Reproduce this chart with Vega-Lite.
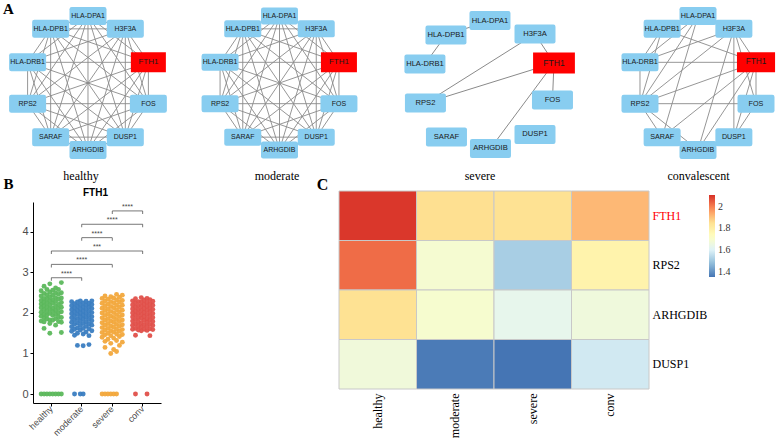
{
  "$schema": "https://vega.github.io/schema/vega-lite/v6.json",
  "padding": {"left": 2, "top": 0, "right": 0, "bottom": 0},
  "background": "white",
  "config": {"view": {"stroke": null}},
  "columns": 4,
  "align": "each",
  "bounds": "flush",
  "spacing": {"row": 25, "column": 0},
  "resolve": {"scale": {"xOffset": "independent", "x": "independent", "y": "independent", "color": "independent"}},
  "datasets": {
    "circ": [
      {"gene": "HLA-DPA1", "x": 0, "y": 1},
      {"gene": "H3F3A", "x": 0.588, "y": 0.809},
      {"gene": "FTH1", "x": 0.951, "y": 0.309},
      {"gene": "FOS", "x": 0.951, "y": -0.309},
      {"gene": "DUSP1", "x": 0.588, "y": -0.809},
      {"gene": "ARHGDIB", "x": 0, "y": -1},
      {"gene": "SARAF", "x": -0.588, "y": -0.809},
      {"gene": "RPS2", "x": -0.951, "y": -0.309},
      {"gene": "HLA-DRB1", "x": -0.951, "y": 0.309},
      {"gene": "HLA-DPB1", "x": -0.588, "y": 0.809}
    ],
    "sev": [
      {"gene": "HLA-DPA1", "x": 0, "y": 0.933},
      {"gene": "H3F3A", "x": 0.709, "y": 0.731},
      {"gene": "FTH1", "x": 1.008, "y": 0.299},
      {"gene": "FOS", "x": 0.984, "y": -0.254},
      {"gene": "DUSP1", "x": 0.709, "y": -0.769},
      {"gene": "ARHGDIB", "x": 0.008, "y": -0.978},
      {"gene": "SARAF", "x": -0.685, "y": -0.806},
      {"gene": "RPS2", "x": -1.016, "y": -0.299},
      {"gene": "HLA-DRB1", "x": -1.024, "y": 0.284},
      {"gene": "HLA-DPB1", "x": -0.693, "y": 0.716}
    ],
    "k10": [
      {"s": "HLA-DPA1", "t": "H3F3A"}, {"s": "HLA-DPA1", "t": "FTH1"}, {"s": "HLA-DPA1", "t": "FOS"}, {"s": "HLA-DPA1", "t": "DUSP1"}, {"s": "HLA-DPA1", "t": "ARHGDIB"}, {"s": "HLA-DPA1", "t": "SARAF"}, {"s": "HLA-DPA1", "t": "RPS2"}, {"s": "HLA-DPA1", "t": "HLA-DRB1"}, {"s": "HLA-DPA1", "t": "HLA-DPB1"},
      {"s": "H3F3A", "t": "FTH1"}, {"s": "H3F3A", "t": "FOS"}, {"s": "H3F3A", "t": "DUSP1"}, {"s": "H3F3A", "t": "ARHGDIB"}, {"s": "H3F3A", "t": "SARAF"}, {"s": "H3F3A", "t": "RPS2"}, {"s": "H3F3A", "t": "HLA-DRB1"}, {"s": "H3F3A", "t": "HLA-DPB1"},
      {"s": "FTH1", "t": "FOS"}, {"s": "FTH1", "t": "DUSP1"}, {"s": "FTH1", "t": "ARHGDIB"}, {"s": "FTH1", "t": "SARAF"}, {"s": "FTH1", "t": "RPS2"}, {"s": "FTH1", "t": "HLA-DRB1"}, {"s": "FTH1", "t": "HLA-DPB1"},
      {"s": "FOS", "t": "DUSP1"}, {"s": "FOS", "t": "ARHGDIB"}, {"s": "FOS", "t": "SARAF"}, {"s": "FOS", "t": "RPS2"}, {"s": "FOS", "t": "HLA-DRB1"}, {"s": "FOS", "t": "HLA-DPB1"},
      {"s": "DUSP1", "t": "ARHGDIB"}, {"s": "DUSP1", "t": "SARAF"}, {"s": "DUSP1", "t": "RPS2"}, {"s": "DUSP1", "t": "HLA-DRB1"}, {"s": "DUSP1", "t": "HLA-DPB1"},
      {"s": "ARHGDIB", "t": "SARAF"}, {"s": "ARHGDIB", "t": "RPS2"}, {"s": "ARHGDIB", "t": "HLA-DRB1"}, {"s": "ARHGDIB", "t": "HLA-DPB1"},
      {"s": "SARAF", "t": "RPS2"}, {"s": "SARAF", "t": "HLA-DRB1"}, {"s": "SARAF", "t": "HLA-DPB1"},
      {"s": "RPS2", "t": "HLA-DRB1"}, {"s": "RPS2", "t": "HLA-DPB1"},
      {"s": "HLA-DRB1", "t": "HLA-DPB1"}
    ],
    "esev": [
      {"s": "HLA-DPA1", "t": "HLA-DPB1"}, {"s": "HLA-DPB1", "t": "HLA-DRB1"}, {"s": "H3F3A", "t": "FTH1"}, {"s": "H3F3A", "t": "RPS2"}, {"s": "FTH1", "t": "RPS2"}, {"s": "FTH1", "t": "FOS"}, {"s": "FTH1", "t": "ARHGDIB"}
    ],
    "econv": [
      {"s": "HLA-DRB1", "t": "FTH1"}, {"s": "RPS2", "t": "FOS"}, {"s": "HLA-DPB1", "t": "FTH1"}, {"s": "HLA-DPB1", "t": "HLA-DRB1"}, {"s": "HLA-DPB1", "t": "RPS2"},
      {"s": "HLA-DPA1", "t": "HLA-DRB1"}, {"s": "HLA-DPA1", "t": "RPS2"}, {"s": "HLA-DPA1", "t": "SARAF"}, {"s": "HLA-DPA1", "t": "H3F3A"},
      {"s": "H3F3A", "t": "HLA-DRB1"}, {"s": "H3F3A", "t": "RPS2"}, {"s": "H3F3A", "t": "ARHGDIB"}, {"s": "H3F3A", "t": "FOS"}, {"s": "H3F3A", "t": "DUSP1"}, {"s": "H3F3A", "t": "FTH1"},
      {"s": "FTH1", "t": "RPS2"}, {"s": "FTH1", "t": "SARAF"}, {"s": "FTH1", "t": "ARHGDIB"}, {"s": "FTH1", "t": "DUSP1"}, {"s": "FTH1", "t": "FOS"},
      {"s": "RPS2", "t": "SARAF"}, {"s": "RPS2", "t": "ARHGDIB"}, {"s": "HLA-DRB1", "t": "RPS2"}, {"s": "FOS", "t": "DUSP1"}
    ],
    "strip": [
      {"g": "healthy", "k": 1, "v": 0}, {"g": "healthy", "k": 1, "v": 1.8}, {"g": "healthy", "k": 1, "v": 1.92}, {"g": "healthy", "k": 1, "v": 2.02}, {"g": "healthy", "k": 1, "v": 2.13}, {"g": "healthy", "k": 1, "v": 2.22}, {"g": "healthy", "k": 1, "v": 2.31}, {"g": "healthy", "k": 1, "v": 2.42}, {"g": "healthy", "k": 1, "v": 2.55},
      {"g": "healthy", "k": 2, "v": 0}, {"g": "healthy", "k": 2, "v": 1.62}, {"g": "healthy", "k": 2, "v": 1.78}, {"g": "healthy", "k": 2, "v": 1.88}, {"g": "healthy", "k": 2, "v": 1.97}, {"g": "healthy", "k": 2, "v": 2.08}, {"g": "healthy", "k": 2, "v": 2.18}, {"g": "healthy", "k": 2, "v": 2.27}, {"g": "healthy", "k": 2, "v": 2.36}, {"g": "healthy", "k": 2, "v": 2.48}, {"g": "healthy", "k": 2, "v": 2.66},
      {"g": "healthy", "k": 3, "v": 0}, {"g": "healthy", "k": 3, "v": 1.85}, {"g": "healthy", "k": 3, "v": 1.95}, {"g": "healthy", "k": 3, "v": 2.05}, {"g": "healthy", "k": 3, "v": 2.15}, {"g": "healthy", "k": 3, "v": 2.25}, {"g": "healthy", "k": 3, "v": 2.35}, {"g": "healthy", "k": 3, "v": 2.45}, {"g": "healthy", "k": 3, "v": 2.58},
      {"g": "healthy", "k": 4, "v": 0}, {"g": "healthy", "k": 4, "v": 1.5}, {"g": "healthy", "k": 4, "v": 1.74}, {"g": "healthy", "k": 4, "v": 1.83}, {"g": "healthy", "k": 4, "v": 1.99}, {"g": "healthy", "k": 4, "v": 2.1}, {"g": "healthy", "k": 4, "v": 2.2}, {"g": "healthy", "k": 4, "v": 2.3}, {"g": "healthy", "k": 4, "v": 2.4}, {"g": "healthy", "k": 4, "v": 2.52}, {"g": "healthy", "k": 4, "v": 2.72},
      {"g": "healthy", "k": 5, "v": 0}, {"g": "healthy", "k": 5, "v": 1.82}, {"g": "healthy", "k": 5, "v": 1.94}, {"g": "healthy", "k": 5, "v": 2.04}, {"g": "healthy", "k": 5, "v": 2.12}, {"g": "healthy", "k": 5, "v": 2.24}, {"g": "healthy", "k": 5, "v": 2.33}, {"g": "healthy", "k": 5, "v": 2.44}, {"g": "healthy", "k": 5, "v": 2.56},
      {"g": "healthy", "k": 6, "v": 0}, {"g": "healthy", "k": 6, "v": 1.7}, {"g": "healthy", "k": 6, "v": 1.86}, {"g": "healthy", "k": 6, "v": 1.97}, {"g": "healthy", "k": 6, "v": 2.07}, {"g": "healthy", "k": 6, "v": 2.17}, {"g": "healthy", "k": 6, "v": 2.28}, {"g": "healthy", "k": 6, "v": 2.38}, {"g": "healthy", "k": 6, "v": 2.5}, {"g": "healthy", "k": 6, "v": 2.62},
      {"g": "healthy", "k": 7, "v": 0}, {"g": "healthy", "k": 7, "v": 1.79}, {"g": "healthy", "k": 7, "v": 1.9}, {"g": "healthy", "k": 7, "v": 2.0}, {"g": "healthy", "k": 7, "v": 2.11}, {"g": "healthy", "k": 7, "v": 2.21}, {"g": "healthy", "k": 7, "v": 2.34}, {"g": "healthy", "k": 7, "v": 2.46}, {"g": "healthy", "k": 7, "v": 2.58},
      {"g": "healthy", "k": 8, "v": 0}, {"g": "healthy", "k": 8, "v": 1.52}, {"g": "healthy", "k": 8, "v": 1.77}, {"g": "healthy", "k": 8, "v": 1.89}, {"g": "healthy", "k": 8, "v": 2.03}, {"g": "healthy", "k": 8, "v": 2.14}, {"g": "healthy", "k": 8, "v": 2.26}, {"g": "healthy", "k": 8, "v": 2.37}, {"g": "healthy", "k": 8, "v": 2.5}, {"g": "healthy", "k": 8, "v": 2.75},

      {"g": "moderate", "k": 1, "v": 1.55}, {"g": "moderate", "k": 1, "v": 1.66}, {"g": "moderate", "k": 1, "v": 1.77}, {"g": "moderate", "k": 1, "v": 1.88}, {"g": "moderate", "k": 1, "v": 1.98}, {"g": "moderate", "k": 1, "v": 2.08}, {"g": "moderate", "k": 1, "v": 2.18}, {"g": "moderate", "k": 1, "v": 2.28},
      {"g": "moderate", "k": 2, "v": 0}, {"g": "moderate", "k": 2, "v": 1.45}, {"g": "moderate", "k": 2, "v": 1.6}, {"g": "moderate", "k": 2, "v": 1.72}, {"g": "moderate", "k": 2, "v": 1.83}, {"g": "moderate", "k": 2, "v": 1.93}, {"g": "moderate", "k": 2, "v": 2.03}, {"g": "moderate", "k": 2, "v": 2.13}, {"g": "moderate", "k": 2, "v": 2.23},
      {"g": "moderate", "k": 3, "v": 1.2}, {"g": "moderate", "k": 3, "v": 1.5}, {"g": "moderate", "k": 3, "v": 1.63}, {"g": "moderate", "k": 3, "v": 1.75}, {"g": "moderate", "k": 3, "v": 1.86}, {"g": "moderate", "k": 3, "v": 1.97}, {"g": "moderate", "k": 3, "v": 2.07}, {"g": "moderate", "k": 3, "v": 2.17}, {"g": "moderate", "k": 3, "v": 2.27},
      {"g": "moderate", "k": 4, "v": 0}, {"g": "moderate", "k": 4, "v": 1.58}, {"g": "moderate", "k": 4, "v": 1.69}, {"g": "moderate", "k": 4, "v": 1.8}, {"g": "moderate", "k": 4, "v": 1.9}, {"g": "moderate", "k": 4, "v": 2.0}, {"g": "moderate", "k": 4, "v": 2.1}, {"g": "moderate", "k": 4, "v": 2.2}, {"g": "moderate", "k": 4, "v": 2.3},
      {"g": "moderate", "k": 5, "v": 0}, {"g": "moderate", "k": 5, "v": 1.19}, {"g": "moderate", "k": 5, "v": 1.48}, {"g": "moderate", "k": 5, "v": 1.62}, {"g": "moderate", "k": 5, "v": 1.74}, {"g": "moderate", "k": 5, "v": 1.85}, {"g": "moderate", "k": 5, "v": 1.95}, {"g": "moderate", "k": 5, "v": 2.05}, {"g": "moderate", "k": 5, "v": 2.15}, {"g": "moderate", "k": 5, "v": 2.25},
      {"g": "moderate", "k": 6, "v": 1.53}, {"g": "moderate", "k": 6, "v": 1.67}, {"g": "moderate", "k": 6, "v": 1.78}, {"g": "moderate", "k": 6, "v": 1.89}, {"g": "moderate", "k": 6, "v": 1.99}, {"g": "moderate", "k": 6, "v": 2.09}, {"g": "moderate", "k": 6, "v": 2.19}, {"g": "moderate", "k": 6, "v": 2.29},
      {"g": "moderate", "k": 7, "v": 1.22}, {"g": "moderate", "k": 7, "v": 1.44}, {"g": "moderate", "k": 7, "v": 1.61}, {"g": "moderate", "k": 7, "v": 1.73}, {"g": "moderate", "k": 7, "v": 1.84}, {"g": "moderate", "k": 7, "v": 1.94}, {"g": "moderate", "k": 7, "v": 2.04}, {"g": "moderate", "k": 7, "v": 2.14}, {"g": "moderate", "k": 7, "v": 2.24},
      {"g": "moderate", "k": 8, "v": 1.56}, {"g": "moderate", "k": 8, "v": 1.7}, {"g": "moderate", "k": 8, "v": 1.81}, {"g": "moderate", "k": 8, "v": 1.91}, {"g": "moderate", "k": 8, "v": 2.01}, {"g": "moderate", "k": 8, "v": 2.11}, {"g": "moderate", "k": 8, "v": 2.21}, {"g": "moderate", "k": 8, "v": 2.3},

      {"g": "severe", "k": 1, "v": 0}, {"g": "severe", "k": 1, "v": 1.4}, {"g": "severe", "k": 1, "v": 1.52}, {"g": "severe", "k": 1, "v": 1.64}, {"g": "severe", "k": 1, "v": 1.76}, {"g": "severe", "k": 1, "v": 1.88}, {"g": "severe", "k": 1, "v": 2.0}, {"g": "severe", "k": 1, "v": 2.12}, {"g": "severe", "k": 1, "v": 2.24}, {"g": "severe", "k": 1, "v": 2.36},
      {"g": "severe", "k": 2, "v": 0}, {"g": "severe", "k": 2, "v": 1.15}, {"g": "severe", "k": 2, "v": 1.3}, {"g": "severe", "k": 2, "v": 1.46}, {"g": "severe", "k": 2, "v": 1.58}, {"g": "severe", "k": 2, "v": 1.7}, {"g": "severe", "k": 2, "v": 1.82}, {"g": "severe", "k": 2, "v": 1.94}, {"g": "severe", "k": 2, "v": 2.06}, {"g": "severe", "k": 2, "v": 2.18}, {"g": "severe", "k": 2, "v": 2.3}, {"g": "severe", "k": 2, "v": 2.42},
      {"g": "severe", "k": 3, "v": 0}, {"g": "severe", "k": 3, "v": 1.35}, {"g": "severe", "k": 3, "v": 1.5}, {"g": "severe", "k": 3, "v": 1.62}, {"g": "severe", "k": 3, "v": 1.74}, {"g": "severe", "k": 3, "v": 1.86}, {"g": "severe", "k": 3, "v": 1.98}, {"g": "severe", "k": 3, "v": 2.1}, {"g": "severe", "k": 3, "v": 2.22}, {"g": "severe", "k": 3, "v": 2.34},
      {"g": "severe", "k": 4, "v": 0}, {"g": "severe", "k": 4, "v": 1.0}, {"g": "severe", "k": 4, "v": 1.25}, {"g": "severe", "k": 4, "v": 1.44}, {"g": "severe", "k": 4, "v": 1.56}, {"g": "severe", "k": 4, "v": 1.68}, {"g": "severe", "k": 4, "v": 1.8}, {"g": "severe", "k": 4, "v": 1.92}, {"g": "severe", "k": 4, "v": 2.04}, {"g": "severe", "k": 4, "v": 2.16}, {"g": "severe", "k": 4, "v": 2.28}, {"g": "severe", "k": 4, "v": 2.4},
      {"g": "severe", "k": 5, "v": 0}, {"g": "severe", "k": 5, "v": 1.1}, {"g": "severe", "k": 5, "v": 1.38}, {"g": "severe", "k": 5, "v": 1.53}, {"g": "severe", "k": 5, "v": 1.65}, {"g": "severe", "k": 5, "v": 1.77}, {"g": "severe", "k": 5, "v": 1.89}, {"g": "severe", "k": 5, "v": 2.01}, {"g": "severe", "k": 5, "v": 2.13}, {"g": "severe", "k": 5, "v": 2.25}, {"g": "severe", "k": 5, "v": 2.37},
      {"g": "severe", "k": 6, "v": 0}, {"g": "severe", "k": 6, "v": 1.05}, {"g": "severe", "k": 6, "v": 1.32}, {"g": "severe", "k": 6, "v": 1.48}, {"g": "severe", "k": 6, "v": 1.6}, {"g": "severe", "k": 6, "v": 1.72}, {"g": "severe", "k": 6, "v": 1.84}, {"g": "severe", "k": 6, "v": 1.96}, {"g": "severe", "k": 6, "v": 2.08}, {"g": "severe", "k": 6, "v": 2.2}, {"g": "severe", "k": 6, "v": 2.32}, {"g": "severe", "k": 6, "v": 2.46},
      {"g": "severe", "k": 7, "v": 1.2}, {"g": "severe", "k": 7, "v": 1.42}, {"g": "severe", "k": 7, "v": 1.55}, {"g": "severe", "k": 7, "v": 1.67}, {"g": "severe", "k": 7, "v": 1.79}, {"g": "severe", "k": 7, "v": 1.91}, {"g": "severe", "k": 7, "v": 2.03}, {"g": "severe", "k": 7, "v": 2.15}, {"g": "severe", "k": 7, "v": 2.27}, {"g": "severe", "k": 7, "v": 2.39},
      {"g": "severe", "k": 8, "v": 1.28}, {"g": "severe", "k": 8, "v": 1.47}, {"g": "severe", "k": 8, "v": 1.59}, {"g": "severe", "k": 8, "v": 1.71}, {"g": "severe", "k": 8, "v": 1.83}, {"g": "severe", "k": 8, "v": 1.95}, {"g": "severe", "k": 8, "v": 2.07}, {"g": "severe", "k": 8, "v": 2.19}, {"g": "severe", "k": 8, "v": 2.31}, {"g": "severe", "k": 8, "v": 2.44},

      {"g": "conv", "k": 1, "v": 1.6}, {"g": "conv", "k": 1, "v": 1.7}, {"g": "conv", "k": 1, "v": 1.8}, {"g": "conv", "k": 1, "v": 1.9}, {"g": "conv", "k": 1, "v": 2.0}, {"g": "conv", "k": 1, "v": 2.1}, {"g": "conv", "k": 1, "v": 2.2}, {"g": "conv", "k": 1, "v": 2.3},
      {"g": "conv", "k": 2, "v": 0}, {"g": "conv", "k": 2, "v": 1.45}, {"g": "conv", "k": 2, "v": 1.62}, {"g": "conv", "k": 2, "v": 1.73}, {"g": "conv", "k": 2, "v": 1.84}, {"g": "conv", "k": 2, "v": 1.95}, {"g": "conv", "k": 2, "v": 2.05}, {"g": "conv", "k": 2, "v": 2.15}, {"g": "conv", "k": 2, "v": 2.25}, {"g": "conv", "k": 2, "v": 2.35},
      {"g": "conv", "k": 3, "v": 1.58}, {"g": "conv", "k": 3, "v": 1.68}, {"g": "conv", "k": 3, "v": 1.78}, {"g": "conv", "k": 3, "v": 1.88}, {"g": "conv", "k": 3, "v": 1.98}, {"g": "conv", "k": 3, "v": 2.08}, {"g": "conv", "k": 3, "v": 2.18}, {"g": "conv", "k": 3, "v": 2.28},
      {"g": "conv", "k": 4, "v": 1.56}, {"g": "conv", "k": 4, "v": 1.66}, {"g": "conv", "k": 4, "v": 1.76}, {"g": "conv", "k": 4, "v": 1.87}, {"g": "conv", "k": 4, "v": 1.97}, {"g": "conv", "k": 4, "v": 2.07}, {"g": "conv", "k": 4, "v": 2.17}, {"g": "conv", "k": 4, "v": 2.27}, {"g": "conv", "k": 4, "v": 2.38},
      {"g": "conv", "k": 5, "v": 1.6}, {"g": "conv", "k": 5, "v": 1.71}, {"g": "conv", "k": 5, "v": 1.82}, {"g": "conv", "k": 5, "v": 1.92}, {"g": "conv", "k": 5, "v": 2.02}, {"g": "conv", "k": 5, "v": 2.12}, {"g": "conv", "k": 5, "v": 2.22}, {"g": "conv", "k": 5, "v": 2.32},
      {"g": "conv", "k": 6, "v": 0}, {"g": "conv", "k": 6, "v": 1.57}, {"g": "conv", "k": 6, "v": 1.67}, {"g": "conv", "k": 6, "v": 1.77}, {"g": "conv", "k": 6, "v": 1.86}, {"g": "conv", "k": 6, "v": 1.96}, {"g": "conv", "k": 6, "v": 2.06}, {"g": "conv", "k": 6, "v": 2.16}, {"g": "conv", "k": 6, "v": 2.26}, {"g": "conv", "k": 6, "v": 2.36},
      {"g": "conv", "k": 7, "v": 1.44}, {"g": "conv", "k": 7, "v": 1.61}, {"g": "conv", "k": 7, "v": 1.72}, {"g": "conv", "k": 7, "v": 1.83}, {"g": "conv", "k": 7, "v": 1.93}, {"g": "conv", "k": 7, "v": 2.03}, {"g": "conv", "k": 7, "v": 2.13}, {"g": "conv", "k": 7, "v": 2.23}, {"g": "conv", "k": 7, "v": 2.33},
      {"g": "conv", "k": 8, "v": 1.59}, {"g": "conv", "k": 8, "v": 1.69}, {"g": "conv", "k": 8, "v": 1.79}, {"g": "conv", "k": 8, "v": 1.89}, {"g": "conv", "k": 8, "v": 1.99}, {"g": "conv", "k": 8, "v": 2.09}, {"g": "conv", "k": 8, "v": 2.19}, {"g": "conv", "k": 8, "v": 2.29}
    ],
    "sig": [
      {"g1": "healthy", "g2": "moderate", "yb": 2.87, "mx": "hm", "lab": "****"},
      {"g1": "healthy", "g2": "severe", "yb": 3.2, "mx": "moderate", "lab": "****"},
      {"g1": "healthy", "g2": "conv", "yb": 3.53, "mx": "ms", "lab": "***"},
      {"g1": "moderate", "g2": "severe", "yb": 3.86, "mx": "ms", "lab": "****"},
      {"g1": "moderate", "g2": "conv", "yb": 4.19, "mx": "severe", "lab": "****"},
      {"g1": "severe", "g2": "conv", "yb": 4.52, "mx": "sc", "lab": "****"}
    ],
    "heat": [
      {"gene": "FTH1", "g": "healthy", "v": 2.1}, {"gene": "FTH1", "g": "moderate", "v": 1.855}, {"gene": "FTH1", "g": "severe", "v": 1.85}, {"gene": "FTH1", "g": "conv", "v": 1.918},
      {"gene": "RPS2", "g": "healthy", "v": 2.028}, {"gene": "RPS2", "g": "moderate", "v": 1.69}, {"gene": "RPS2", "g": "severe", "v": 1.514}, {"gene": "RPS2", "g": "conv", "v": 1.78},
      {"gene": "ARHGDIB", "g": "healthy", "v": 1.85}, {"gene": "ARHGDIB", "g": "moderate", "v": 1.695}, {"gene": "ARHGDIB", "g": "severe", "v": 1.63}, {"gene": "ARHGDIB", "g": "conv", "v": 1.665},
      {"gene": "DUSP1", "g": "healthy", "v": 1.67}, {"gene": "DUSP1", "g": "moderate", "v": 1.36}, {"gene": "DUSP1", "g": "severe", "v": 1.35}, {"gene": "DUSP1", "g": "conv", "v": 1.579}
    ]
  },
  "concat": [
    {
      "width": 306, "height": 166,
      "title": {"text": "healthy", "orient": "bottom", "frame": "group", "offset": 10, "baseline": "middle", "dx": -105, "font": "Liberation Serif", "fontSize": 12, "fontWeight": "normal", "color": "#000"},
      "layer": [
        {
          "data": {"name": "k10"},
          "transform": [
            {"lookup": "s", "from": {"data": {"name": "circ"}, "key": "gene", "fields": ["x", "y"]}, "as": ["x1", "y1"]},
            {"lookup": "t", "from": {"data": {"name": "circ"}, "key": "gene", "fields": ["x", "y"]}, "as": ["x2", "y2"]}
          ],
          "mark": {"type": "rule", "color": "#8a8a8a", "strokeWidth": 0.9},
          "encoding": {
            "x": {"field": "x1", "type": "quantitative", "scale": {"domain": [-0.866, 3.953], "nice": false, "zero": false}, "axis": null},
            "y": {"field": "y1", "type": "quantitative", "scale": {"domain": [-1.24, 1.24], "nice": false, "zero": false},
                  "axis": {"title": "A", "titleAngle": 0, "titleX": -25, "titleY": 8, "titleAlign": "center", "titleBaseline": "middle", "titleFont": "Liberation Serif", "titleFontSize": 15, "titleFontWeight": "bold", "titleColor": "#000", "labels": false, "ticks": false, "domain": false, "grid": false}},
            "x2": {"field": "x2"},
            "y2": {"field": "y2"}
          }
        },
        {
          "data": {"name": "circ"},
          "mark": {"type": "point", "filled": true, "size": 1369, "opacity": 1, "strokeWidth": 0},
          "encoding": {
            "x": {"field": "x", "type": "quantitative", "scale": {"domain": [-0.866, 3.953], "nice": false, "zero": false}, "axis": null},
            "y": {"field": "y", "type": "quantitative", "scale": {"domain": [-1.24, 1.24], "nice": false, "zero": false},
                  "axis": {"title": "A", "titleAngle": 0, "titleX": -25, "titleY": 8, "titleAlign": "center", "titleBaseline": "middle", "titleFont": "Liberation Serif", "titleFontSize": 15, "titleFontWeight": "bold", "titleColor": "#000", "labels": false, "ticks": false, "domain": false, "grid": false}},
            "color": {"condition": {"test": "datum.gene === 'FTH1'", "value": "#ff0000"}, "value": "#88cdf0"},
            "shape": {"condition": {"test": "datum.gene === 'FTH1'", "value": "M-0.946,-0.54H0.946V0.54H-0.946Z"}, "value": "M-0.88,-0.486H0.88Q1,-0.486 1,-0.366V0.366Q1,0.486 0.88,0.486H-0.88Q-1,0.486 -1,0.366V-0.366Q-1,-0.486 -0.88,-0.486Z"}
          }
        },
        {
          "data": {"name": "circ"},
          "mark": {"type": "text", "font": "Liberation Sans", "fontSize": 7, "color": "#1a1a1a"},
          "encoding": {
            "x": {"field": "x", "type": "quantitative", "scale": {"domain": [-0.866, 3.953], "nice": false, "zero": false}, "axis": null},
            "y": {"field": "y", "type": "quantitative", "scale": {"domain": [-1.24, 1.24], "nice": false, "zero": false},
                  "axis": {"title": "A", "titleAngle": 0, "titleX": -25, "titleY": 8, "titleAlign": "center", "titleBaseline": "middle", "titleFont": "Liberation Serif", "titleFontSize": 15, "titleFontWeight": "bold", "titleColor": "#000", "labels": false, "ticks": false, "domain": false, "grid": false}},
            "text": {"field": "gene"},
            "size": {"condition": {"test": "datum.gene === 'FTH1'", "value": 8}, "value": 7}
          }
        }
      ]
    },
    {
      "width": 310, "height": 166,
      "title": {"text": "moderate", "orient": "bottom", "frame": "group", "offset": 10, "baseline": "middle", "dx": -217, "font": "Liberation Serif", "fontSize": 12, "fontWeight": "normal", "color": "#000"},
      "layer": [
        {
          "data": {"name": "k10"},
          "transform": [
            {"lookup": "s", "from": {"data": {"name": "circ"}, "key": "gene", "fields": ["x", "y"]}, "as": ["x1", "y1"]},
            {"lookup": "t", "from": {"data": {"name": "circ"}, "key": "gene", "fields": ["x", "y"]}, "as": ["x2", "y2"]}
          ],
          "mark": {"type": "rule", "color": "#8a8a8a", "strokeWidth": 0.9},
          "encoding": {
            "x": {"field": "x1", "type": "quantitative", "scale": {"domain": [0.952, 5.912], "nice": false, "zero": false}, "axis": null},
            "y": {"field": "y1", "type": "quantitative", "scale": {"domain": [-1.24, 1.24], "nice": false, "zero": false}, "axis": null},
            "x2": {"field": "x2"},
            "y2": {"field": "y2"}
          }
        },
        {
          "data": {"name": "circ"},
          "mark": {"type": "point", "filled": true, "size": 1369, "opacity": 1, "strokeWidth": 0},
          "encoding": {
            "x": {"field": "x", "type": "quantitative", "scale": {"domain": [0.952, 5.912], "nice": false, "zero": false}, "axis": null},
            "y": {"field": "y", "type": "quantitative", "scale": {"domain": [-1.24, 1.24], "nice": false, "zero": false}, "axis": null},
            "color": {"condition": {"test": "datum.gene === 'FTH1'", "value": "#ff0000"}, "value": "#88cdf0"},
            "shape": {"condition": {"test": "datum.gene === 'FTH1'", "value": "M-0.973,-0.54H0.973V0.54H-0.973Z"}, "value": "M-0.88,-0.46H0.88Q1,-0.46 1,-0.34V0.34Q1,0.46 0.88,0.46H-0.88Q-1,0.46 -1,0.34V-0.34Q-1,-0.46 -0.88,-0.46Z"}
          }
        },
        {
          "data": {"name": "circ"},
          "mark": {"type": "text", "font": "Liberation Sans", "fontSize": 7, "color": "#1a1a1a"},
          "encoding": {
            "x": {"field": "x", "type": "quantitative", "scale": {"domain": [0.952, 5.912], "nice": false, "zero": false}, "axis": null},
            "y": {"field": "y", "type": "quantitative", "scale": {"domain": [-1.24, 1.24], "nice": false, "zero": false}, "axis": null},
            "text": {"field": "gene"},
            "size": {"condition": {"test": "datum.gene === 'FTH1'", "value": 8}, "value": 7}
          }
        }
      ]
    },
    {
      "width": 2, "height": 166,
      "title": {"text": "severe", "orient": "bottom", "frame": "group", "offset": 10, "baseline": "middle", "dx": -170, "font": "Liberation Serif", "fontSize": 12, "fontWeight": "normal", "color": "#000"},
      "layer": [
        {
          "data": {"name": "esev"},
          "transform": [
            {"lookup": "s", "from": {"data": {"name": "sev"}, "key": "gene", "fields": ["x", "y"]}, "as": ["x1", "y1"]},
            {"lookup": "t", "from": {"data": {"name": "sev"}, "key": "gene", "fields": ["x", "y"]}, "as": ["x2", "y2"]}
          ],
          "mark": {"type": "rule", "color": "#8a8a8a", "strokeWidth": 1},
          "encoding": {
            "x": {"field": "x1", "type": "quantitative", "scale": {"domain": [2.50394, 2.53543], "nice": false, "zero": false}, "axis": null},
            "y": {"field": "y1", "type": "quantitative", "scale": {"domain": [-1.24, 1.24], "nice": false, "zero": false}, "axis": null},
            "x2": {"field": "x2"},
            "y2": {"field": "y2"}
          }
        },
        {
          "data": {"name": "sev"},
          "mark": {"type": "point", "filled": true, "size": 1681, "opacity": 1, "strokeWidth": 0},
          "encoding": {
            "x": {"field": "x", "type": "quantitative", "scale": {"domain": [2.50394, 2.53543], "nice": false, "zero": false}, "axis": null},
            "y": {"field": "y", "type": "quantitative", "scale": {"domain": [-1.24, 1.24], "nice": false, "zero": false}, "axis": null},
            "color": {"condition": {"test": "datum.gene === 'FTH1'", "value": "#ff0000"}, "value": "#88cdf0"},
            "shape": {"condition": {"test": "datum.gene === 'FTH1'", "value": "M-1.02,-0.51H1.02V0.51H-1.02Z"}, "value": "M-0.9,-0.463H0.9Q1,-0.463 1,-0.363V0.363Q1,0.463 0.9,0.463H-0.9Q-1,0.463 -1,0.363V-0.363Q-1,-0.463 -0.9,-0.463Z"}
          }
        },
        {
          "data": {"name": "sev"},
          "mark": {"type": "text", "font": "Liberation Sans", "fontSize": 7.6, "color": "#1a1a1a"},
          "encoding": {
            "x": {"field": "x", "type": "quantitative", "scale": {"domain": [2.50394, 2.53543], "nice": false, "zero": false}, "axis": null},
            "y": {"field": "y", "type": "quantitative", "scale": {"domain": [-1.24, 1.24], "nice": false, "zero": false}, "axis": null},
            "text": {"field": "gene"},
            "size": {"condition": {"test": "datum.gene === 'FTH1'", "value": 8.5}, "value": 7.6}
          }
        }
      ]
    },
    {
      "width": 127, "height": 166,
      "title": {"text": "convalescent", "orient": "bottom", "frame": "group", "offset": 10, "baseline": "middle", "dx": -16, "font": "Liberation Serif", "fontSize": 12, "fontWeight": "normal", "color": "#000"},
      "layer": [
        {
          "data": {"name": "econv"},
          "transform": [
            {"lookup": "s", "from": {"data": {"name": "circ"}, "key": "gene", "fields": ["x", "y"]}, "as": ["x1", "y1"]},
            {"lookup": "t", "from": {"data": {"name": "circ"}, "key": "gene", "fields": ["x", "y"]}, "as": ["x2", "y2"]}
          ],
          "mark": {"type": "rule", "color": "#8a8a8a", "strokeWidth": 0.9},
          "encoding": {
            "x": {"field": "x1", "type": "quantitative", "scale": {"domain": [-0.7705, 1.3115], "nice": false, "zero": false}, "axis": null},
            "y": {"field": "y1", "type": "quantitative", "scale": {"domain": [-1.24, 1.24], "nice": false, "zero": false}, "axis": null},
            "x2": {"field": "x2"},
            "y2": {"field": "y2"}
          }
        },
        {
          "data": {"name": "circ"},
          "mark": {"type": "point", "filled": true, "size": 1369, "opacity": 1, "strokeWidth": 0},
          "encoding": {
            "x": {"field": "x", "type": "quantitative", "scale": {"domain": [-0.7705, 1.3115], "nice": false, "zero": false}, "axis": null},
            "y": {"field": "y", "type": "quantitative", "scale": {"domain": [-1.24, 1.24], "nice": false, "zero": false}, "axis": null},
            "color": {"condition": {"test": "datum.gene === 'FTH1'", "value": "#ff0000"}, "value": "#88cdf0"},
            "shape": {"condition": {"test": "datum.gene === 'FTH1'", "value": "M-1.03,-0.54H1.03V0.54H-1.03Z"}, "value": "M-0.88,-0.486H0.88Q1,-0.486 1,-0.366V0.366Q1,0.486 0.88,0.486H-0.88Q-1,0.486 -1,0.366V-0.366Q-1,-0.486 -0.88,-0.486Z"}
          }
        },
        {
          "data": {"name": "circ"},
          "mark": {"type": "text", "font": "Liberation Sans", "fontSize": 7.2, "color": "#1a1a1a"},
          "encoding": {
            "x": {"field": "x", "type": "quantitative", "scale": {"domain": [-0.7705, 1.3115], "nice": false, "zero": false}, "axis": null},
            "y": {"field": "y", "type": "quantitative", "scale": {"domain": [-1.24, 1.24], "nice": false, "zero": false}, "axis": null},
            "text": {"field": "gene"},
            "size": {"condition": {"test": "datum.gene === 'FTH1'", "value": 8.2}, "value": 7.2}
          }
        }
      ]
    },
    {
      "width": 306, "height": 212,
      "title": {"text": "FTH1", "frame": "group", "anchor": "middle", "dx": -90.5, "offset": -26, "baseline": "middle", "font": "Liberation Sans", "fontSize": 10, "fontWeight": "bold", "color": "#000"},
      "layer": [
        {
          "data": {"name": "strip"},
          "mark": {"type": "point", "filled": true, "size": 24, "opacity": 0.95, "strokeWidth": 0},
          "encoding": {
            "x": {"field": "g", "type": "nominal", "scale": {"domain": ["healthy", "hm", "moderate", "ms", "severe", "sc", "conv"], "range": [0, 128], "paddingInner": 0, "paddingOuter": 0.7},
                  "axis": {"values": ["healthy", "moderate", "severe", "conv"], "title": null, "labelAngle": -45, "labelAlign": "right", "labelBaseline": "middle", "labelFont": "Liberation Sans", "labelFontSize": 9, "labelColor": "#4d4d4d", "tickColor": "#000", "tickSize": 3, "domainColor": "#000", "labelPadding": 1}},
            "xOffset": {"field": "k", "type": "nominal", "scale": {"range": [-2.5, 17.7], "paddingInner": 0, "paddingOuter": 0}},
            "y": {"field": "v", "type": "quantitative", "scale": {"domain": [-0.222, 4.74], "range": [212, 11], "nice": false, "zero": false},
                  "axis": {"values": [0, 1, 2, 3, 4], "title": "B", "titleAngle": 0, "titleX": -25, "titleY": -7.5, "titleAlign": "center", "titleBaseline": "middle", "titleFont": "Liberation Serif", "titleFontSize": 15, "titleFontWeight": "bold", "titleColor": "#000", "grid": false, "domainColor": "#000", "tickColor": "#000", "tickSize": 3, "labelFont": "Liberation Sans", "labelFontSize": 11, "labelColor": "#4d4d4d", "labelPadding": 2}},
            "color": {"field": "g", "type": "nominal", "scale": {"domain": ["healthy", "moderate", "severe", "conv"], "range": ["#5cb85c", "#3a7dc1", "#f2a83c", "#e0504a"]}, "legend": null}
          }
        },
        {
          "data": {"name": "sig"},
          "mark": {"type": "rule", "color": "#555555", "strokeWidth": 0.8},
          "encoding": {
            "x": {"field": "g1", "type": "nominal"},
            "x2": {"field": "g2"},
            "y": {"field": "yb", "type": "quantitative"}
          }
        },
        {
          "data": {"name": "sig"},
          "transform": [{"fold": ["g1", "g2"], "as": ["end", "gg"]}],
          "mark": {"type": "tick", "orient": "vertical", "size": 3, "thickness": 0.8, "yOffset": 1.5, "color": "#555555", "opacity": 1},
          "encoding": {
            "x": {"field": "gg", "type": "nominal"},
            "y": {"field": "yb", "type": "quantitative"}
          }
        },
        {
          "data": {"name": "sig"},
          "mark": {"type": "text", "font": "Liberation Sans", "fontSize": 7, "color": "#444444", "baseline": "alphabetic", "dy": -2},
          "encoding": {
            "x": {"field": "mx", "type": "nominal"},
            "y": {"field": "yb", "type": "quantitative"},
            "text": {"field": "lab"}
          }
        }
      ]
    },
    {
      "width": 310, "height": 198,
      "data": {"name": "heat"},
      "mark": {"type": "rect", "stroke": "#c8c8c8", "strokeWidth": 1, "width": {"band": 1}, "height": {"band": 1}},
      "encoding": {
        "x": {"field": "g", "type": "nominal", "scale": {"domain": ["healthy", "moderate", "severe", "conv"], "paddingInner": 0, "paddingOuter": 0},
              "axis": {"title": null, "labelAngle": -90, "labelFont": "Liberation Serif", "labelFontSize": 12, "labelColor": "#000", "ticks": false, "domain": false, "labelPadding": 4}},
        "y": {"field": "gene", "type": "nominal", "scale": {"domain": ["FTH1", "RPS2", "ARHGDIB", "DUSP1"], "paddingInner": 0, "paddingOuter": 0},
              "axis": {"orient": "right", "title": "C", "titleAngle": 0, "titleX": -327, "titleY": -7, "titleAlign": "center", "titleBaseline": "middle", "titleFont": "Liberation Serif", "titleFontSize": 16, "titleFontWeight": "bold", "titleColor": "#000",
                       "labelColor": {"condition": {"test": "datum.value === 'FTH1'", "value": "#ff0000"}, "value": "#000000"}, "labelFont": "Liberation Serif", "labelFontSize": 12, "ticks": false, "domain": false, "labelPadding": 3}},
        "color": {"field": "v", "type": "quantitative",
                  "scale": {"domain": [1.35, 1.477, 1.603, 1.73, 1.857, 1.983, 2.11], "range": ["#4575b4", "#91bfdb", "#e0f3f8", "#ffffbf", "#fee090", "#fc8d59", "#d73027"], "interpolate": "rgb"},
                  "legend": {"orient": "none", "legendX": 370, "legendY": 4, "title": null, "direction": "vertical", "gradientLength": 82, "gradientThickness": 6, "gradientStrokeWidth": 0, "values": [1.4, 1.6, 1.8, 2], "format": "~g", "labelOverlap": false, "labelFont": "Liberation Serif", "labelFontSize": 10, "labelColor": "#333333", "labelOffset": 3, "padding": 0}}
      }
    }
  ]
}
